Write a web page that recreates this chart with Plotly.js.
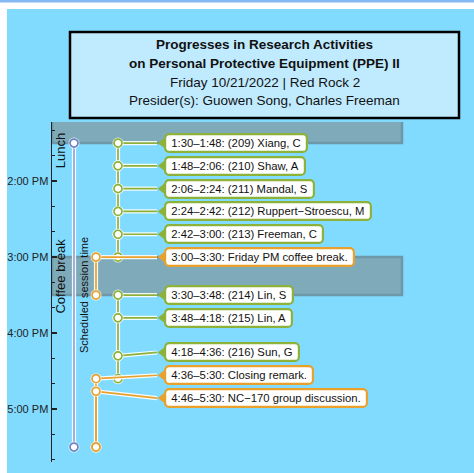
<!DOCTYPE html>
<html>
<head>
<meta charset="utf-8">
<script src="https://cdn.plot.ly/plotly-3.0.1.min.js"></script>
<style>html,body{margin:0;padding:0;background:#fff;}#chart{width:474px;height:473px;}</style>
</head>
<body>
<div id="chart"></div>
<script>
// ---------------- data ----------------
const sessionDay = '2022-10-21';
const titleLines = ['Progresses in Research Activities', 'on Personal Protective Equipment (PPE) II'];
const subtitleLines = ['Friday 10/21/2022 | Red Rock 2', 'Presider(s): Guowen Song, Charles Freeman'];

const itemStart = ['13:30','13:48','14:06','14:24','14:42','15:00','15:30','15:48','16:18','16:36','16:46'];
const itemEnd   = ['13:48','14:06','14:24','14:42','15:00','15:30','15:48','16:18','16:36','17:30','17:30'];
const itemText  = [
  '1:30–1:48: (209) Xiang, C',
  '1:48–2:06: (210) Shaw, A',
  '2:06–2:24: (211) Mandal, S',
  '2:24–2:42: (212) Ruppert−Stroescu, M',
  '2:42–3:00: (213) Freeman, C',
  '3:00–3:30: Friday PM coffee break.',
  '3:30–3:48: (214) Lin, S',
  '3:48–4:18: (215) Lin, A',
  '4:18–4:36: (216) Sun, G',
  '4:36–5:30: Closing remark.',
  '4:46–5:30: NC−170 group discussion.'
];
const itemKind = ['talk','talk','talk','talk','talk','event','talk','talk','talk','event','event'];

const breakName  = ['Lunch', 'Coffee break'];
const breakStart = ['12:00', '15:00'];
const breakEnd   = ['13:30', '15:30'];

const scheduleName  = 'Scheduled session time';
const scheduleStart = '13:30';
const scheduleEnd   = '17:30';

const axisStart = '13:13:24';
const axisEnd   = '17:41:48';

// ---------------- helpers ----------------
function ts(hm) { return sessionDay + ' ' + (hm.length === 5 ? hm + ':00' : hm); }
function toMin(hm) { const p = hm.split(':').map(Number); return p[0]*60 + p[1] + (p[2]||0)/60; }
function fromMin(m) {
  const s = Math.round(m*60);
  const h = Math.floor(s/3600), mi = Math.floor((s%3600)/60), se = s%60;
  const pad = v => String(v).padStart(2,'0');
  return sessionDay + ' ' + pad(h) + ':' + pad(mi) + ':' + pad(se);
}
function repel(ms, gap) {
  let cl = ms.map(m => ({sum:m, n:1, c:m}));
  let merged = true;
  while (merged) {
    merged = false;
    for (let i = 1; i < cl.length; i++) {
      const a = cl[i-1], b = cl[i];
      const aLast = a.c + (a.n-1)/2*gap, bFirst = b.c - (b.n-1)/2*gap;
      if (bFirst - aLast < gap - 1e-9) {
        a.sum += b.sum; a.n += b.n; a.c = a.sum / a.n;
        cl.splice(i,1); merged = true; break;
      }
    }
  }
  const out = [];
  cl.forEach(c => { for (let k = 0; k < c.n; k++) out.push(c.c + (k-(c.n-1)/2)*gap); });
  return out;
}

// ---------------- styling / layout constants ----------------
const FONT = 'Liberation Sans, Arial, sans-serif';
const colors = {talk:'#8db23a', event:'#e9a12b', session:'#8ea2dc', sessionMk:'#6c83c4'};
const colX = {session:22, event:44, talk:66};
const tipX = 105, triX = 110.8, boxX = 112;
const XMAX = 353;

const labelPos = repel(itemStart.map(toMin), 18).map(fromMin);

const traces = [];
function addLines(kind, xs, color, width) {
  traces.push({type:'scatter', mode:'lines', x:xs.x, y:xs.y, line:{color:color, width:width}, hoverinfo:'skip', showlegend:false, cliponaxis:false});
}
function segs(kind) {
  const x = [], y = [];
  itemStart.forEach((s,i) => { if (itemKind[i] === kind) { x.push(colX[kind], colX[kind], null); y.push(ts(s), ts(itemEnd[i]), null); } });
  return {x, y};
}
const sessSeg = {x:[colX.session, colX.session], y:[ts(scheduleStart), ts(scheduleEnd)]};
[['session', sessSeg], ['event', segs('event')], ['talk', segs('talk')]].forEach(([k, s]) => {
  addLines(k, s, 'rgba(255,255,255,0.9)', 4.2);
  addLines(k, s, colors[k], 1.7);
});

function endPts(kind) {
  const x = [], y = [];
  itemEnd.forEach((e,i) => { if (itemKind[i] === kind) { x.push(colX[kind]); y.push(ts(e)); } });
  return {x, y};
}
function addMarkers(pts, color) {
  traces.push({type:'scatter', mode:'markers', x:pts.x, y:pts.y, marker:{size:11, color:'rgba(255,255,255,0.85)'}, hoverinfo:'skip', showlegend:false, cliponaxis:false});
  traces.push({type:'scatter', mode:'markers', x:pts.x, y:pts.y, marker:{size:8, color:'#ffffff', line:{color:color, width:1.7}}, hoverinfo:'skip', showlegend:false, cliponaxis:false});
}
addMarkers({x:[colX.session, colX.session], y:[ts(scheduleStart), ts(scheduleEnd)]}, colors.sessionMk);
addMarkers(endPts('event'), colors.event);
addMarkers(endPts('talk'), colors.talk);

['event','talk'].forEach(kind => {
  const x = [], y = [];
  itemStart.forEach((s,i) => { if (itemKind[i] === kind) { x.push(colX[kind], tipX, null); y.push(ts(s), labelPos[i], null); } });
  addLines(kind, {x,y}, 'rgba(255,255,255,0.9)', 4.2);
  addLines(kind, {x,y}, colors[kind], 1.7);
});
['event','talk'].forEach(kind => {
  const x = [], y = [];
  itemStart.forEach((s,i) => { if (itemKind[i] === kind) { x.push(colX[kind]); y.push(ts(s)); } });
  addMarkers({x,y}, colors[kind]);
});
['event','talk'].forEach(kind => {
  const x = [], y = [];
  itemStart.forEach((s,i) => { if (itemKind[i] === kind) { x.push(triX); y.push(labelPos[i]); } });
  traces.push({type:'scatter', mode:'markers', x, y, marker:{symbol:'triangle-left', size:10, color:colors[kind]}, hoverinfo:'skip', showlegend:false, cliponaxis:false});
});

// ---------------- layout ----------------
const L = 52, T = 122, W = XMAX, H = 340;
const px2paperX = p => (p - L)/W;
const px2paperY = p => (T + H - p)/H;

const shapes = [
  {type:'rect', xref:'paper', yref:'paper', layer:'below', x0:px2paperX(0), x1:px2paperX(480), y0:px2paperY(0), y1:px2paperY(2.5), fillcolor:'#86b9f4', line:{width:0}},
  {type:'rect', xref:'paper', yref:'paper', layer:'below', x0:px2paperX(7), x1:px2paperX(480), y0:px2paperY(9), y1:px2paperY(480), fillcolor:'#80dbff', line:{width:0}},
];
breakName.forEach((n,i) => {
  shapes.push({type:'rect', xref:'x', yref:'y', layer:'below', x0:0, x1:XMAX-3, y0:ts(breakStart[i]), y1:ts(breakEnd[i]),
    fillcolor:'#7eaab9', line:{color:'#6e98a8', width:2.5}});
});
shapes.push({type:'rect', xref:'paper', yref:'paper', layer:'above', x0:px2paperX(70), x1:px2paperX(459), y0:px2paperY(32), y1:px2paperY(118),
  fillcolor:'#c0ebff', line:{color:'#000', width:2.5}});

const annotations = [];
const titleCx = px2paperX(264.5);
const allTitle = titleLines.map(s => '<b>' + s + '</b>').concat(subtitleLines);
const titleYs = [45, 63.5, 82, 100.5];
allTitle.forEach((s,i) => annotations.push({xref:'paper', yref:'paper', x:titleCx, y:px2paperY(titleYs[i]), text:s, showarrow:false,
  xanchor:'center', yanchor:'middle', font:{family:FONT, size:13.5, color:'#111'}}));

const breakLabelY = ['13:36', null];
breakName.forEach((n,i) => {
  const mid = breakLabelY[i] ? ts(breakLabelY[i]) : fromMin((toMin(breakStart[i]) + toMin(breakEnd[i]))/2);
  annotations.push({xref:'x', yref:'y', x:8.5, y:mid, text:n, textangle:-90, showarrow:false, xanchor:'center', yanchor:'middle',
    font:{family:FONT, size:13, color:'#111'}});
});
annotations.push({xref:'x', yref:'y', x:32, y:fromMin((toMin(scheduleStart)+toMin(scheduleEnd))/2), text:scheduleName, textangle:-90, showarrow:false,
  xanchor:'center', yanchor:'middle', font:{family:FONT, size:11, color:'#111'}});

const NB = '\u00A0';
itemText.forEach((s,i) => annotations.push({xref:'x', yref:'y', x:boxX, y:labelPos[i], text:NB + s + NB, showarrow:false, xanchor:'left', yanchor:'middle',
  bgcolor:'#ffffff', bordercolor:colors[itemKind[i]], borderwidth:2.2, borderpad:2, font:{family:FONT, size:11.3, color:'#111'}}));

const layout = {
  width:474, height:473,
  margin:{l:L, t:T, r:474-L-W, b:473-T-H, pad:0},
  paper_bgcolor:'#ffffff', plot_bgcolor:'rgba(0,0,0,0)',
  showlegend:false, hovermode:false,
  xaxis:{range:[0, XMAX], visible:false, fixedrange:true},
  yaxis:{type:'date', range:[ts(axisEnd), ts(axisStart)], tickformat:'%-I:%M %p', tick0:ts('13:00'), dtick:3600000,
    ticks:'inside', ticklen:5, tickwidth:1.5, tickcolor:'#222', showline:true, linecolor:'#222', linewidth:1.5,
    showgrid:false, zeroline:false, tickfont:{family:FONT, size:11, color:'#222'},
    minor:{tick0:ts('13:00'), dtick:1200000, ticks:'inside', ticklen:3, tickwidth:1.3, tickcolor:'#222', showgrid:false}},
  shapes, annotations
};

function roundBoxes() {
  document.querySelectorAll('g.annotation rect.bg').forEach(r => { r.setAttribute('rx', 4); r.setAttribute('ry', 4); });
}
Plotly.newPlot('chart', traces, layout, {staticPlot:true}).then(roundBoxes);
</script>
</body>
</html>
